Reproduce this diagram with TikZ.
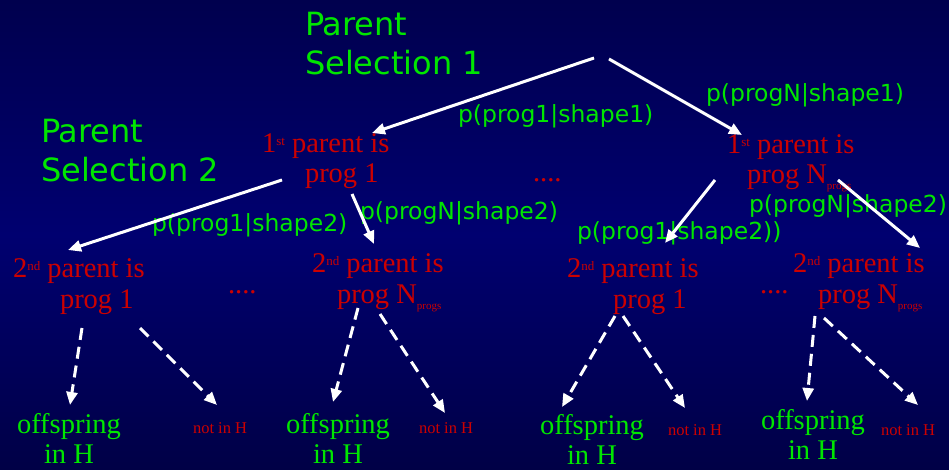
\documentclass[tikz,border=0pt]{standalone}
\usepackage{fontspec}
\setmainfont{Liberation Serif}
\newfontfamily\dvsans{DejaVu Sans}
\usetikzlibrary{arrows.meta}
\definecolor{bgtop}{RGB}{0,0,78}
\definecolor{bgmid}{RGB}{0,0,112}
\definecolor{bgbot}{RGB}{0,0,70}
\definecolor{redtxt}{RGB}{204,0,0}
\definecolor{grntxt}{RGB}{0,230,0}
\newcommand\mysup[1]{\raisebox{7pt}{\fontsize{13}{13}\selectfont #1}}
\newcommand\mysub[1]{\raisebox{-6pt}{\fontsize{11}{11}\selectfont #1}}
\begin{document}
\begin{tikzpicture}[x=1pt,y=-1pt,
  every node/.style={inner sep=0pt, outer sep=0pt},
  title/.style={font=\dvsans\fontsize{32}{39}\selectfont, text=grntxt, align=left, anchor=base west},
  prob/.style={font=\dvsans\fontsize{23.5}{28}\selectfont, text=grntxt, anchor=base west},
  parent/.style={font=\fontsize{28.5}{30.5}\selectfont, text=redtxt, align=left, anchor=base west},
  offs/.style={font=\fontsize{28.5}{30}\selectfont, text=grntxt, align=center, anchor=base},
  notin/.style={font=\fontsize{16.5}{18}\selectfont, text=redtxt, anchor=base west},
  dots/.style={font=\fontsize{28.5}{30}\selectfont, text=redtxt, anchor=base west},
  solidarrow/.style={draw=white, line width=3pt, -{Triangle[length=13pt,width=11pt]}},
  dasharrow/.style={solidarrow, dash pattern=on 12pt off 7pt},
]
\useasboundingbox (0,0) rectangle (949,470);
\shade[top color=bgtop, bottom color=bgbot, middle color=bgmid] (0,0) rectangle (949,470);

% titles (base anchor = baseline of last line)
\node[title] (sel1) at (305,75) {Parent\\Selection 1};
\node[title] (sel2) at (41,182) {Parent\\Selection 2};

% probability labels
\node[prob] (p11) at (458,123) {p(prog1|shape1)};
\node[prob] (pN1) at (706,102) {p(progN|shape1)};
\node[prob] (p12a) at (152,232) {p(prog1|shape2)};
\node[prob] (pN2a) at (360,220) {p(progN|shape2)};
\node[prob] (p12b) at (577,240) {p(prog1|shape2))};
\node[prob] (pN2b) at (749,212) {p(progN|shape2)};

% parent nodes
\node[parent] (f1) at (262,183) {1\mysup{st} parent is\\\hspace*{43pt}prog 1};
\node[parent] (fN) at (727,184) {1\mysup{st} parent is\\\hspace*{20pt}prog N\mysub{progs}};
\node[parent] (s11) at (13,308) {2\mysup{nd} parent is\\\hspace*{47pt}prog 1};
\node[parent] (s1N) at (312,303) {2\mysup{nd} parent is\\\hspace*{25pt}prog N\mysub{progs}};
\node[parent] (s21) at (567,308) {2\mysup{nd} parent is\\\hspace*{46pt}prog 1};
\node[parent] (s2N) at (793,303) {2\mysup{nd} parent is\\\hspace*{25pt}prog N\mysub{progs}};

% dots
\node[dots] (d0) at (533,182) {....};
\node[dots] (d1) at (228,293) {....};
\node[dots] (d2) at (760,293) {....};

% offspring / not in H
\node[offs] (o1) at (69,463) {offspring\\in H};
\node[offs] (o2) at (338,463) {offspring\\in H};
\node[offs] (o3) at (592,464) {offspring\\in H};
\node[offs] (o4) at (813,459) {offspring\\in H};
\node[notin] (n1) at (193,433) {not in H};
\node[notin] (n2) at (419,433) {not in H};
\node[notin] (n3) at (668,435) {not in H};
\node[notin] (n4) at (881,435) {not in H};

% connector end points
\coordinate (rootA) at (594,58);
\coordinate (rootB) at (609,59);
\coordinate (f1in) at (372,133);
\coordinate (fNin) at (742,135);
\coordinate (f1outA) at (282,180);
\coordinate (f1outB) at (352,194);
\coordinate (s11in) at (68,250);
\coordinate (s1Nin) at (374,244);
\coordinate (fNoutA) at (715,180);
\coordinate (fNoutB) at (838,180);
\coordinate (s21in) at (665,243);
\coordinate (s2Nin) at (920,248);
\coordinate (s11oA) at (82,328);
\coordinate (s11oB) at (140,328);
\coordinate (s1NoA) at (358,308);
\coordinate (s1NoB) at (380,314);
\coordinate (s21oA) at (615,316);
\coordinate (s21oB) at (623,316);
\coordinate (s2NoA) at (815,316);
\coordinate (s2NoB) at (824,318);
\coordinate (o1in) at (70,405);
\coordinate (n1in) at (217,405);
\coordinate (o2in) at (333,402);
\coordinate (n2in) at (445,413);
\coordinate (o3in) at (562,407);
\coordinate (n3in) at (685,408);
\coordinate (o4in) at (807,401);
\coordinate (n4in) at (918,405);

% solid arrows
\draw[solidarrow] (rootA) -- (f1in);
\draw[solidarrow] (rootB) -- (fNin);
\draw[solidarrow] (f1outA) -- (s11in);
\draw[solidarrow] (f1outB) -- (s1Nin);
\draw[solidarrow] (fNoutA) -- (s21in);
\draw[solidarrow] (fNoutB) -- (s2Nin);

% dashed arrows
\draw[dasharrow] (s11oA) -- (o1in);
\draw[dasharrow] (s11oB) -- (n1in);
\draw[dasharrow] (s1NoA) -- (o2in);
\draw[dasharrow] (s1NoB) -- (n2in);
\draw[dasharrow] (s21oA) -- (o3in);
\draw[dasharrow] (s21oB) -- (n3in);
\draw[dasharrow] (s2NoA) -- (o4in);
\draw[dasharrow] (s2NoB) -- (n4in);
\end{tikzpicture}
\end{document}
